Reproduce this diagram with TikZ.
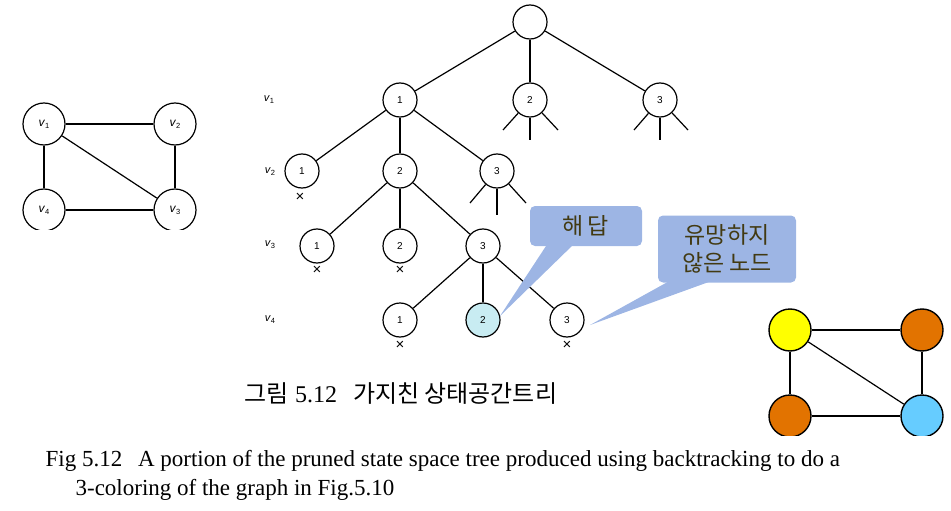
\documentclass[tikz,border=0pt]{standalone}
\usepackage{fontspec}
\setmainfont{Liberation Serif}
\newfontfamily\kr{Noto Sans CJK KR}
\newfontfamily\hv{Liberation Sans}
\usepackage{tikz}

\definecolor{callblue}{RGB}{157,181,228}
\definecolor{calltext}{RGB}{66,58,18}
\definecolor{hitcyan}{RGB}{200,236,242}
\definecolor{cyel}{RGB}{255,255,0}
\definecolor{corg}{RGB}{226,115,0}
\definecolor{cblu}{RGB}{102,204,255}

\newcommand{\vsub}[1]{\textit{v}\raisebox{-2pt}{\fontsize{7.5pt}{8pt}\selectfont #1}}

\tikzset{
  st/.style={circle,draw,line width=1.2pt,minimum size=34pt,inner sep=0pt,
    font=\hv\fontsize{10pt}{11pt}\selectfont},
  gv/.style={circle,draw,line width=1.2pt,minimum size=42pt,inner sep=0pt,
    font=\hv\fontsize{12pt}{13pt}\selectfont},
  cv/.style={circle,draw,line width=1.4pt,minimum size=42pt,inner sep=0pt},
  lvl/.style={font=\hv\fontsize{11pt}{12pt}\selectfont},
  nox/.style={font=\hv\fontsize{15pt}{15pt}\selectfont,inner sep=0pt},
  callout/.style={fill=callblue,rounded corners=5pt,text=calltext,
    font=\kr\fontsize{23pt}{28pt}\selectfont,align=center,inner sep=0pt},
}

\begin{document}
\begin{tikzpicture}[x=1pt,y=-1pt,line width=1.2pt]
  \useasboundingbox (0,0) rectangle (951,511);
  % graph of fig 5.10
  \begin{scope}
    \clip (0,0) rectangle (240,229);
    \node[gv] (g1) at (44,124) {\vsub{1}};
    \node[gv] (g2) at (175,124) {\vsub{2}};
    \node[gv] (g4) at (44,210) {\vsub{4}};
    \node[gv] (g3) at (175,210) {\vsub{3}};
    \draw (g1) -- (g2);
    \draw (g1) -- (g4);
    \draw (g2) -- (g3);
    \draw (g4) -- (g3);
    \draw (g1) -- (g3);
  \end{scope}
  % level labels
  \node[lvl] (l1) at (269,100) {\vsub{1}};
  \node[lvl] (l2) at (270,172) {\vsub{2}};
  \node[lvl] (l3) at (270,245) {\vsub{3}};
  \node[lvl] (l4) at (270,320) {\vsub{4}};
  % state space tree
  \node[st] (r) at (530,22) {};
  \node[st] (a1) at (400,100) {1};
  \node[st] (a2) at (530,100) {2};
  \node[st] (a3) at (660,100) {3};
  \node[st] (b1) at (302,171) {1};
  \node[st] (b2) at (400,171) {2};
  \node[st] (b3) at (497,171) {3};
  \node[st] (c1) at (317,246) {1};
  \node[st] (c2) at (400,246) {2};
  \node[st] (c3) at (483,246) {3};
  \node[st] (d1) at (400,320) {1};
  \node[st,fill=hitcyan] (d2) at (483,320) {2};
  \node[st] (d3) at (567,320) {3};
  \foreach \p/\c in {r/a1,r/a2,r/a3,a1/b1,a1/b2,a1/b3,b2/c1,b2/c2,b2/c3,c3/d1,c3/d2,c3/d3}
    \draw (\p) -- (\c);
  % stubs of unexpanded nodes
  \coordinate (a2l) at (503,130);
  \coordinate (a2m) at (530,140);
  \coordinate (a2r) at (558,130);
  \coordinate (a3l) at (634,130);
  \coordinate (a3m) at (660,140);
  \coordinate (a3r) at (688,130);
  \coordinate (b3l) at (470,203);
  \coordinate (b3m) at (497,215);
  \coordinate (b3r) at (526,203);
  \foreach \p in {a2,a3,b3}
    \foreach \s in {l,m,r}
      \draw (\p) -- (\p\s);
  % pruned marks
  \node[nox] (x1) at (300,197) {×};
  \node[nox] (x2) at (317,270) {×};
  \node[nox] (x3) at (400,270) {×};
  \node[nox] (x4) at (400,345) {×};
  \node[nox] (x5) at (567,345) {×};
  % callouts
  \fill[callblue] (548,243) -- (500,316) -- (575,243) -- cycle;
  \node[callout,minimum width=112pt,minimum height=40pt] (sol) at (586,226) {해\,답};
  \fill[callblue] (673,279) -- (590,325) -- (717,279) -- cycle;
  \node[callout,minimum width=138pt,minimum height=67pt] (nonp) at (727,249)
    {유망하지\\않은 노드};
  % colored graph
  \begin{scope}
    \clip (740,290) rectangle (951,435);
    \node[cv,fill=cyel] (k1) at (790,330) {};
    \node[cv,fill=corg] (k2) at (922,330) {};
    \node[cv,fill=corg] (k4) at (790,416) {};
    \node[cv,fill=cblu] (k3) at (922,416) {};
    \draw (k1) -- (k2);
    \draw (k1) -- (k4);
    \draw (k2) -- (k3);
    \draw (k4) -- (k3);
    \draw (k1) -- (k3);
  \end{scope}
  % captions
  \node[font=\fontsize{24pt}{26pt}\selectfont] (cap1) at (401,394)
    {{\kr 그림} 5.12\hspace{16pt}{\kr 가지친 상태공간트리}};
  \node[font=\fontsize{23pt}{29pt}\selectfont,anchor=north west,align=left,inner sep=0pt]
    (cap2) at (45,450)
    {Fig 5.12\hspace{10pt} A portion of the pruned state space tree produced using backtracking to do a\\
     \hspace{30pt}3-coloring of the graph in Fig.5.10};
\end{tikzpicture}
\end{document}
